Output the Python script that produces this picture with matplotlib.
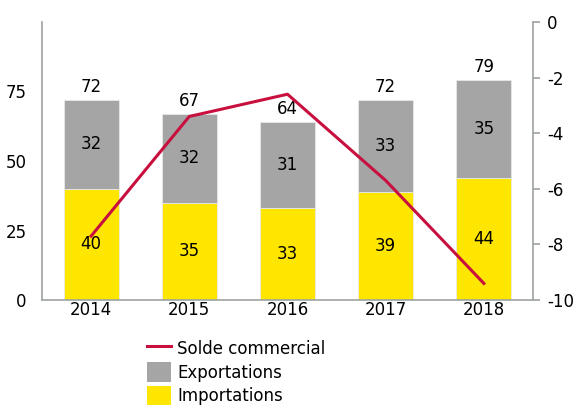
import matplotlib.pyplot as plt
from matplotlib.patches import Patch
from matplotlib.lines import Line2D

years = ["2014", "2015", "2016", "2017", "2018"]
importations = [40, 35, 33, 39, 44]
exportations = [32, 32, 31, 33, 35]
totals = [72, 67, 64, 72, 79]
solde = [-7.7, -3.4, -2.6, -5.7, -9.4]

yellow = "#ffe600"
grey = "#a5a5a5"
red = "#c8103f"
spine_col = "#9ea3a0"

plt.rcParams['font.family'] = ['DejaVu Sans']
plt.rcParams['axes.unicode_minus'] = False

fs = 12
fig = plt.figure(figsize=(5.79, 4.05), dpi=100)
ax = fig.add_axes([0.0725, 0.259, 0.848, 0.687])
x = range(len(years))

ax.bar(x, importations, width=0.56, color=yellow, edgecolor="#e8e8e8", linewidth=0.6)
ax.bar(x, exportations, bottom=importations, width=0.56, color=grey, edgecolor="#e8e8e8", linewidth=0.6)

for i in x:
    ax.text(i, importations[i] / 2, str(importations[i]), ha="center", va="center", fontsize=fs)
    ax.text(i, importations[i] + exportations[i] / 2, str(exportations[i]), ha="center", va="center", fontsize=fs)
    ax.text(i, totals[i] + 1.5, str(totals[i]), ha="center", va="bottom", fontsize=fs)

ax.set_xlim(-0.5, 4.5)
ax.set_ylim(0, 100)
ax.set_yticks([0, 25, 50, 75])
ax.set_xticks(list(x))
ax.set_xticklabels(years)
ax.tick_params(axis="both", length=0, labelsize=fs)
ax.tick_params(axis="y", pad=11)
ax.tick_params(axis="x", pad=1)
for s in ["top", "right"]:
    ax.spines[s].set_visible(False)
ax.spines["left"].set_color(spine_col)
ax.spines["bottom"].set_color(spine_col)
ax.spines["left"].set_linewidth(1.2)
ax.spines["bottom"].set_linewidth(1.2)

ax2 = ax.twinx()
ax2.plot(list(x), solde, color=red, linewidth=2.2)
ax2.set_ylim(-10, 0)
ax2.set_yticks([0, -2, -4, -6, -8, -10])
ax2.tick_params(axis="y", length=5, width=1.2, color=spine_col, labelsize=fs, pad=5)
for s in ["top", "left", "bottom"]:
    ax2.spines[s].set_visible(False)
ax2.spines["right"].set_color(spine_col)
ax2.spines["right"].set_linewidth(1.2)

handles = [
    Line2D([0], [0], color=red, linewidth=2.2),
    Patch(facecolor=grey),
    Patch(facecolor=yellow),
]
labels = ["Solde commercial", "Exportations", "Importations"]
fig.legend(handles, labels, loc="upper left", bbox_to_anchor=(0.24, 0.185),
           frameon=False, fontsize=fs, handlelength=1.4, handleheight=1.5,
           handletextpad=0.4, labelspacing=0.2, borderpad=0)

fig.savefig("out.png", dpi=100)
